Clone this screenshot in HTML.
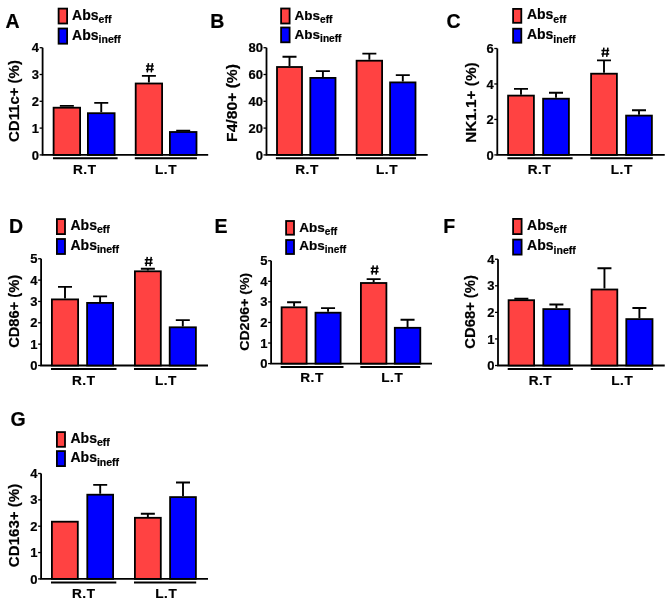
<!DOCTYPE html>
<html><head><meta charset="utf-8"><style>
html,body{margin:0;padding:0;background:#fff;}
svg{display:block;will-change:transform;}
text{font-family:"Liberation Sans", sans-serif;font-weight:bold;fill:#000;stroke:#000;stroke-width:0.2px;}
.L{font-size:19.5px;}
.G{font-size:14px;}
.s{font-size:10.5px;}
.Y{font-size:15px;}
.T{font-size:13px;}
.H{font-size:13px;}
.X{font-size:13.6px;letter-spacing:0.5px;}
</style></head><body>
<svg width="668" height="607" viewBox="0 0 668 607">
<rect width="668" height="607" fill="#fff"/>
<text transform="translate(5.4,27.5)" class="L">A</text>
<rect x="58.6" y="8.6" width="8.5" height="14.9" fill="#FF4242" stroke="#000" stroke-width="1.8"/>
<rect x="58.6" y="28.5" width="8.5" height="15.2" fill="#0000FF" stroke="#000" stroke-width="1.8"/>
<text x="72.1" y="19.8" class="G" style="font-size:14px">Abs<tspan class="s" dy="3.2" style="font-size:10.5px">eff</tspan></text>
<text x="72.1" y="40" class="G" style="font-size:14px">Abs<tspan class="s" dy="3.2" style="font-size:10.5px">ineff</tspan></text>
<text transform="translate(19,101.05) rotate(-90)" text-anchor="middle" class="Y" style="font-size:15px" textLength="81.8" lengthAdjust="spacingAndGlyphs">CD11c+ (%)</text>
<path d="M42.6 47.7V154.9H208.2" fill="none" stroke="#000" stroke-width="1.8"/>
<path d="M39.6 154.9H42.6" stroke="#000" stroke-width="1.3"/>
<text x="39.1" y="159.5" text-anchor="end" class="T">0</text>
<path d="M39.6 128.1H42.6" stroke="#000" stroke-width="1.3"/>
<text x="39.1" y="132.7" text-anchor="end" class="T">1</text>
<path d="M39.6 101.3H42.6" stroke="#000" stroke-width="1.3"/>
<text x="39.1" y="105.9" text-anchor="end" class="T">2</text>
<path d="M39.6 74.5H42.6" stroke="#000" stroke-width="1.3"/>
<text x="39.1" y="79.1" text-anchor="end" class="T">3</text>
<path d="M39.6 47.7H42.6" stroke="#000" stroke-width="1.3"/>
<text x="39.1" y="52.3" text-anchor="end" class="T">4</text>
<path d="M66.85 106.8V105.9M59.85 105.9H73.85" stroke="#000" stroke-width="1.9" fill="none"/>
<rect x="53.6" y="107.7" width="26.5" height="47.2" fill="#FF4242" stroke="#000" stroke-width="1.8"/>
<path d="M101.25 112.3V102.9M94.25 102.9H108.25" stroke="#000" stroke-width="1.9" fill="none"/>
<rect x="87.9" y="113.2" width="26.7" height="41.7" fill="#0000FF" stroke="#000" stroke-width="1.8"/>
<path d="M148.9 82.6V75.9M141.9 75.9H155.9" stroke="#000" stroke-width="1.9" fill="none"/>
<rect x="135.7" y="83.5" width="26.4" height="71.4" fill="#FF4242" stroke="#000" stroke-width="1.8"/>
<path d="M183.2 131.1V130.6M176.2 130.6H190.2" stroke="#000" stroke-width="1.9" fill="none"/>
<rect x="169.9" y="132" width="26.6" height="22.9" fill="#0000FF" stroke="#000" stroke-width="1.8"/>
<path d="M148.45 63.15L147.25 72.35M152.45 63.15L151.25 72.35M145.95 66.05H153.75M145.95 69.45H153.75" stroke="#000" stroke-width="1.5" fill="none"/>
<path d="M53 158.3H117.6" stroke="#000" stroke-width="2"/>
<path d="M134.8 158.3H196.9" stroke="#000" stroke-width="2"/>
<text x="84.75" y="174" text-anchor="middle" class="X">R.T</text>
<text x="166" y="174" text-anchor="middle" class="X">L.T</text>
<text transform="translate(210.15,27.5)" class="L">B</text>
<rect x="281.1" y="8.5" width="8.5" height="15" fill="#FF4242" stroke="#000" stroke-width="1.8"/>
<rect x="281.1" y="27.5" width="8.5" height="14.8" fill="#0000FF" stroke="#000" stroke-width="1.8"/>
<text x="294.6" y="19.6" class="G" style="font-size:13.5px">Abs<tspan class="s" dy="3.2" style="font-size:10.12px">eff</tspan></text>
<text x="294.6" y="38.6" class="G" style="font-size:13.5px">Abs<tspan class="s" dy="3.2" style="font-size:10.12px">ineff</tspan></text>
<text transform="translate(237.2,102.95) rotate(-90)" text-anchor="middle" class="Y" style="font-size:15px" textLength="78" lengthAdjust="spacingAndGlyphs">F4/80+ (%)</text>
<path d="M266.5 47.7V154.9H427.7" fill="none" stroke="#000" stroke-width="1.8"/>
<path d="M263.5 154.9H266.5" stroke="#000" stroke-width="1.3"/>
<text x="263" y="159.5" text-anchor="end" class="T">0</text>
<path d="M263.5 128.1H266.5" stroke="#000" stroke-width="1.3"/>
<text x="263" y="132.7" text-anchor="end" class="T">20</text>
<path d="M263.5 101.3H266.5" stroke="#000" stroke-width="1.3"/>
<text x="263" y="105.9" text-anchor="end" class="T">40</text>
<path d="M263.5 74.5H266.5" stroke="#000" stroke-width="1.3"/>
<text x="263" y="79.1" text-anchor="end" class="T">60</text>
<path d="M263.5 47.7H266.5" stroke="#000" stroke-width="1.3"/>
<text x="263" y="52.3" text-anchor="end" class="T">80</text>
<path d="M289.5 66.1V56.8M282.5 56.8H296.5" stroke="#000" stroke-width="1.9" fill="none"/>
<rect x="277" y="67" width="25" height="87.9" fill="#FF4242" stroke="#000" stroke-width="1.8"/>
<path d="M322.9 77V71.1M315.9 71.1H329.9" stroke="#000" stroke-width="1.9" fill="none"/>
<rect x="310.3" y="77.9" width="25.2" height="77" fill="#0000FF" stroke="#000" stroke-width="1.8"/>
<path d="M369.35 59.8V53.6M362.35 53.6H376.35" stroke="#000" stroke-width="1.9" fill="none"/>
<rect x="356.6" y="60.7" width="25.5" height="94.2" fill="#FF4242" stroke="#000" stroke-width="1.8"/>
<path d="M402.8 81.5V75.1M395.8 75.1H409.8" stroke="#000" stroke-width="1.9" fill="none"/>
<rect x="390.1" y="82.4" width="25.4" height="72.5" fill="#0000FF" stroke="#000" stroke-width="1.8"/>
<path d="M275.9 158.3H338.9" stroke="#000" stroke-width="2"/>
<path d="M356 158.3H416" stroke="#000" stroke-width="2"/>
<text x="307" y="174" text-anchor="middle" class="X">R.T</text>
<text x="387" y="174" text-anchor="middle" class="X">L.T</text>
<text transform="translate(446.4,27.5)" class="L">C</text>
<rect x="513.1" y="8.9" width="8.2" height="13.9" fill="#FF4242" stroke="#000" stroke-width="1.8"/>
<rect x="513.1" y="28.7" width="8.2" height="14" fill="#0000FF" stroke="#000" stroke-width="1.8"/>
<text x="526.9" y="19.4" class="G" style="font-size:14px">Abs<tspan class="s" dy="3.2" style="font-size:10.5px">eff</tspan></text>
<text x="526.9" y="39.3" class="G" style="font-size:14px">Abs<tspan class="s" dy="3.2" style="font-size:10.5px">ineff</tspan></text>
<text transform="translate(476,102.6) rotate(-90)" text-anchor="middle" class="Y" style="font-size:15px" textLength="80.5" lengthAdjust="spacingAndGlyphs">NK1.1+ (%)</text>
<path d="M497.3 48.5V154.9H664.75" fill="none" stroke="#000" stroke-width="1.8"/>
<path d="M494.3 154.9H497.3" stroke="#000" stroke-width="1.3"/>
<text x="493.8" y="159.5" text-anchor="end" class="T">0</text>
<path d="M494.3 119.43H497.3" stroke="#000" stroke-width="1.3"/>
<text x="493.8" y="124.03" text-anchor="end" class="T">2</text>
<path d="M494.3 83.97H497.3" stroke="#000" stroke-width="1.3"/>
<text x="493.8" y="88.57" text-anchor="end" class="T">4</text>
<path d="M494.3 48.5H497.3" stroke="#000" stroke-width="1.3"/>
<text x="493.8" y="53.1" text-anchor="end" class="T">6</text>
<path d="M521 94.7V88.9M514 88.9H528" stroke="#000" stroke-width="1.9" fill="none"/>
<rect x="508.1" y="95.6" width="25.8" height="59.3" fill="#FF4242" stroke="#000" stroke-width="1.8"/>
<path d="M556 97.8V92.8M549 92.8H563" stroke="#000" stroke-width="1.9" fill="none"/>
<rect x="543.1" y="98.7" width="25.8" height="56.2" fill="#0000FF" stroke="#000" stroke-width="1.8"/>
<path d="M604 72.8V60.4M597 60.4H611" stroke="#000" stroke-width="1.9" fill="none"/>
<rect x="591.1" y="73.7" width="25.8" height="81.2" fill="#FF4242" stroke="#000" stroke-width="1.8"/>
<path d="M639 114.7V110.2M632 110.2H646" stroke="#000" stroke-width="1.9" fill="none"/>
<rect x="626.1" y="115.6" width="25.8" height="39.3" fill="#0000FF" stroke="#000" stroke-width="1.8"/>
<path d="M603.9 47.65L602.7 56.85M607.9 47.65L606.7 56.85M601.4 50.55H609.2M601.4 53.95H609.2" stroke="#000" stroke-width="1.5" fill="none"/>
<path d="M507.4 158.3H572.6" stroke="#000" stroke-width="2"/>
<path d="M590.4 158.3H652.8" stroke="#000" stroke-width="2"/>
<text x="539.5" y="174" text-anchor="middle" class="X">R.T</text>
<text x="621.75" y="174" text-anchor="middle" class="X">L.T</text>
<text transform="translate(8.9,232.5)" class="L">D</text>
<rect x="56.9" y="219.1" width="8.1" height="15" fill="#FF4242" stroke="#000" stroke-width="1.8"/>
<rect x="56.9" y="239" width="8.1" height="15" fill="#0000FF" stroke="#000" stroke-width="1.8"/>
<text x="70.5" y="230" class="G" style="font-size:14px">Abs<tspan class="s" dy="3.2" style="font-size:10.5px">eff</tspan></text>
<text x="70.5" y="249.9" class="G" style="font-size:14px">Abs<tspan class="s" dy="3.2" style="font-size:10.5px">ineff</tspan></text>
<text transform="translate(19.2,311.35) rotate(-90)" text-anchor="middle" class="Y" style="font-size:15px" textLength="73" lengthAdjust="spacingAndGlyphs">CD86+ (%)</text>
<path d="M41.1 258.75V365.5H208" fill="none" stroke="#000" stroke-width="1.8"/>
<path d="M38.1 365.5H41.1" stroke="#000" stroke-width="1.3"/>
<text x="37.6" y="370.1" text-anchor="end" class="T">0</text>
<path d="M38.1 344.15H41.1" stroke="#000" stroke-width="1.3"/>
<text x="37.6" y="348.75" text-anchor="end" class="T">1</text>
<path d="M38.1 322.8H41.1" stroke="#000" stroke-width="1.3"/>
<text x="37.6" y="327.4" text-anchor="end" class="T">2</text>
<path d="M38.1 301.45H41.1" stroke="#000" stroke-width="1.3"/>
<text x="37.6" y="306.05" text-anchor="end" class="T">3</text>
<path d="M38.1 280.1H41.1" stroke="#000" stroke-width="1.3"/>
<text x="37.6" y="284.7" text-anchor="end" class="T">4</text>
<path d="M38.1 258.75H41.1" stroke="#000" stroke-width="1.3"/>
<text x="37.6" y="263.35" text-anchor="end" class="T">5</text>
<path d="M65 298.5V286.9M58 286.9H72" stroke="#000" stroke-width="1.9" fill="none"/>
<rect x="51.9" y="299.4" width="26.2" height="66.1" fill="#FF4242" stroke="#000" stroke-width="1.8"/>
<path d="M100.1 302V296.4M93.1 296.4H107.1" stroke="#000" stroke-width="1.9" fill="none"/>
<rect x="87.1" y="302.9" width="26" height="62.6" fill="#0000FF" stroke="#000" stroke-width="1.8"/>
<path d="M147.85 270.4V268.8M140.85 268.8H154.85" stroke="#000" stroke-width="1.9" fill="none"/>
<rect x="134.9" y="271.3" width="25.9" height="94.2" fill="#FF4242" stroke="#000" stroke-width="1.8"/>
<path d="M182.8 326.4V320.1M175.8 320.1H189.8" stroke="#000" stroke-width="1.9" fill="none"/>
<rect x="169.7" y="327.3" width="26.2" height="38.2" fill="#0000FF" stroke="#000" stroke-width="1.8"/>
<path d="M147.25 256.9L146.05 266.1M151.25 256.9L150.05 266.1M144.75 259.8H152.55M144.75 263.2H152.55" stroke="#000" stroke-width="1.5" fill="none"/>
<path d="M51 369H116.5" stroke="#000" stroke-width="2"/>
<path d="M134 369H196.5" stroke="#000" stroke-width="2"/>
<text x="83.75" y="384.5" text-anchor="middle" class="X">R.T</text>
<text x="165.9" y="384.5" text-anchor="middle" class="X">L.T</text>
<text transform="translate(214.4,232.5)" class="L">E</text>
<rect x="286.1" y="221" width="7.9" height="13.7" fill="#FF4242" stroke="#000" stroke-width="1.8"/>
<rect x="286.1" y="240" width="7.9" height="14" fill="#0000FF" stroke="#000" stroke-width="1.8"/>
<text x="299.3" y="231.9" class="G" style="font-size:13.5px">Abs<tspan class="s" dy="3.2" style="font-size:10.12px">eff</tspan></text>
<text x="299.3" y="250.2" class="G" style="font-size:13.5px">Abs<tspan class="s" dy="3.2" style="font-size:10.12px">ineff</tspan></text>
<text transform="translate(248.8,311.75) rotate(-90)" text-anchor="middle" class="Y" style="font-size:13.5px" textLength="78" lengthAdjust="spacingAndGlyphs">CD206+ (%)</text>
<path d="M271.1 260.75V363.6H432" fill="none" stroke="#000" stroke-width="1.8"/>
<path d="M268.1 363.6H271.1" stroke="#000" stroke-width="1.3"/>
<text x="267.6" y="368.2" text-anchor="end" class="T">0</text>
<path d="M268.1 343.03H271.1" stroke="#000" stroke-width="1.3"/>
<text x="267.6" y="347.63" text-anchor="end" class="T">1</text>
<path d="M268.1 322.46H271.1" stroke="#000" stroke-width="1.3"/>
<text x="267.6" y="327.06" text-anchor="end" class="T">2</text>
<path d="M268.1 301.89H271.1" stroke="#000" stroke-width="1.3"/>
<text x="267.6" y="306.49" text-anchor="end" class="T">3</text>
<path d="M268.1 281.32H271.1" stroke="#000" stroke-width="1.3"/>
<text x="267.6" y="285.92" text-anchor="end" class="T">4</text>
<path d="M268.1 260.75H271.1" stroke="#000" stroke-width="1.3"/>
<text x="267.6" y="265.35" text-anchor="end" class="T">5</text>
<path d="M294.1 306.4V302.2M287.1 302.2H301.1" stroke="#000" stroke-width="1.9" fill="none"/>
<rect x="281.6" y="307.3" width="25" height="56.3" fill="#FF4242" stroke="#000" stroke-width="1.8"/>
<path d="M328.05 311.8V308.1M321.05 308.1H335.05" stroke="#000" stroke-width="1.9" fill="none"/>
<rect x="315.5" y="312.7" width="25.1" height="50.9" fill="#0000FF" stroke="#000" stroke-width="1.8"/>
<path d="M373.65 282.1V279.1M366.65 279.1H380.65" stroke="#000" stroke-width="1.9" fill="none"/>
<rect x="360.9" y="283" width="25.5" height="80.6" fill="#FF4242" stroke="#000" stroke-width="1.8"/>
<path d="M407.55 326.9V319.7M400.55 319.7H414.55" stroke="#000" stroke-width="1.9" fill="none"/>
<rect x="394.8" y="327.8" width="25.5" height="35.8" fill="#0000FF" stroke="#000" stroke-width="1.8"/>
<path d="M373.25 265.4L372.05 274.6M377.25 265.4L376.05 274.6M370.75 268.3H378.55M370.75 271.7H378.55" stroke="#000" stroke-width="1.5" fill="none"/>
<path d="M280.7 367H343.5" stroke="#000" stroke-width="2"/>
<path d="M360.3 367H420.3" stroke="#000" stroke-width="2"/>
<text x="312" y="381.5" text-anchor="middle" class="X">R.T</text>
<text x="392.25" y="381.5" text-anchor="middle" class="X">L.T</text>
<text transform="translate(443.15,232.5)" class="L">F</text>
<rect x="513.1" y="218.9" width="8.5" height="15.2" fill="#FF4242" stroke="#000" stroke-width="1.8"/>
<rect x="513.1" y="239.6" width="8.5" height="15" fill="#0000FF" stroke="#000" stroke-width="1.8"/>
<text x="527.1" y="230" class="G" style="font-size:14px">Abs<tspan class="s" dy="3.2" style="font-size:10.5px">eff</tspan></text>
<text x="527.1" y="250.3" class="G" style="font-size:14px">Abs<tspan class="s" dy="3.2" style="font-size:10.5px">ineff</tspan></text>
<text transform="translate(475,311.9) rotate(-90)" text-anchor="middle" class="Y" style="font-size:15px" textLength="73.5" lengthAdjust="spacingAndGlyphs">CD68+ (%)</text>
<path d="M498 259.25V365.5H664.75" fill="none" stroke="#000" stroke-width="1.8"/>
<path d="M495 365.5H498" stroke="#000" stroke-width="1.3"/>
<text x="494.5" y="370.1" text-anchor="end" class="T">0</text>
<path d="M495 338.94H498" stroke="#000" stroke-width="1.3"/>
<text x="494.5" y="343.54" text-anchor="end" class="T">1</text>
<path d="M495 312.38H498" stroke="#000" stroke-width="1.3"/>
<text x="494.5" y="316.98" text-anchor="end" class="T">2</text>
<path d="M495 285.81H498" stroke="#000" stroke-width="1.3"/>
<text x="494.5" y="290.41" text-anchor="end" class="T">3</text>
<path d="M495 259.25H498" stroke="#000" stroke-width="1.3"/>
<text x="494.5" y="263.85" text-anchor="end" class="T">4</text>
<path d="M521.35 299.3V298.7M514.35 298.7H528.35" stroke="#000" stroke-width="1.9" fill="none"/>
<rect x="508.6" y="300.2" width="25.5" height="65.3" fill="#FF4242" stroke="#000" stroke-width="1.8"/>
<path d="M556.4 308.2V304.5M549.4 304.5H563.4" stroke="#000" stroke-width="1.9" fill="none"/>
<rect x="543.3" y="309.1" width="26.2" height="56.4" fill="#0000FF" stroke="#000" stroke-width="1.8"/>
<path d="M604.45 288.6V268.2M597.45 268.2H611.45" stroke="#000" stroke-width="1.9" fill="none"/>
<rect x="591.6" y="289.5" width="25.7" height="76" fill="#FF4242" stroke="#000" stroke-width="1.8"/>
<path d="M639.4 318.2V308M632.4 308H646.4" stroke="#000" stroke-width="1.9" fill="none"/>
<rect x="626.3" y="319.1" width="26.2" height="46.4" fill="#0000FF" stroke="#000" stroke-width="1.8"/>
<path d="M507.7 369H572.9" stroke="#000" stroke-width="2"/>
<path d="M590.7 369H653" stroke="#000" stroke-width="2"/>
<text x="540.4" y="384.5" text-anchor="middle" class="X">R.T</text>
<text x="622.25" y="384.5" text-anchor="middle" class="X">L.T</text>
<text transform="translate(10.4,425.8)" class="L">G</text>
<rect x="56.9" y="432.1" width="8.1" height="14.7" fill="#FF4242" stroke="#000" stroke-width="1.8"/>
<rect x="56.9" y="451.1" width="8.1" height="15" fill="#0000FF" stroke="#000" stroke-width="1.8"/>
<text x="70.5" y="443.1" class="G" style="font-size:14px">Abs<tspan class="s" dy="3.2" style="font-size:10.5px">eff</tspan></text>
<text x="70.5" y="462.4" class="G" style="font-size:14px">Abs<tspan class="s" dy="3.2" style="font-size:10.5px">ineff</tspan></text>
<text transform="translate(19.1,525.45) rotate(-90)" text-anchor="middle" class="Y" style="font-size:15px" textLength="83.4" lengthAdjust="spacingAndGlyphs">CD163+ (%)</text>
<path d="M41.1 473.5V578.9H208" fill="none" stroke="#000" stroke-width="1.8"/>
<path d="M38.1 578.9H41.1" stroke="#000" stroke-width="1.3"/>
<text x="37.6" y="583.5" text-anchor="end" class="T">0</text>
<path d="M38.1 552.55H41.1" stroke="#000" stroke-width="1.3"/>
<text x="37.6" y="557.15" text-anchor="end" class="T">1</text>
<path d="M38.1 526.2H41.1" stroke="#000" stroke-width="1.3"/>
<text x="37.6" y="530.8" text-anchor="end" class="T">2</text>
<path d="M38.1 499.85H41.1" stroke="#000" stroke-width="1.3"/>
<text x="37.6" y="504.45" text-anchor="end" class="T">3</text>
<path d="M38.1 473.5H41.1" stroke="#000" stroke-width="1.3"/>
<text x="37.6" y="478.1" text-anchor="end" class="T">4</text>
<rect x="51.9" y="521.7" width="25.9" height="57.2" fill="#FF4242" stroke="#000" stroke-width="1.8"/>
<path d="M100.2 493.8V484.9M93.2 484.9H107.2" stroke="#000" stroke-width="1.9" fill="none"/>
<rect x="87.3" y="494.7" width="25.8" height="84.2" fill="#0000FF" stroke="#000" stroke-width="1.8"/>
<path d="M147.85 516.9V513.7M140.85 513.7H154.85" stroke="#000" stroke-width="1.9" fill="none"/>
<rect x="134.9" y="517.8" width="25.9" height="61.1" fill="#FF4242" stroke="#000" stroke-width="1.8"/>
<path d="M183 496.2V482.5M176 482.5H190" stroke="#000" stroke-width="1.9" fill="none"/>
<rect x="170.1" y="497.1" width="25.8" height="81.8" fill="#0000FF" stroke="#000" stroke-width="1.8"/>
<path d="M51 582.6H116.3" stroke="#000" stroke-width="2"/>
<path d="M134 582.6H196.2" stroke="#000" stroke-width="2"/>
<text x="83.75" y="598" text-anchor="middle" class="X">R.T</text>
<text x="166.25" y="598" text-anchor="middle" class="X">L.T</text>
</svg>
</body></html>
